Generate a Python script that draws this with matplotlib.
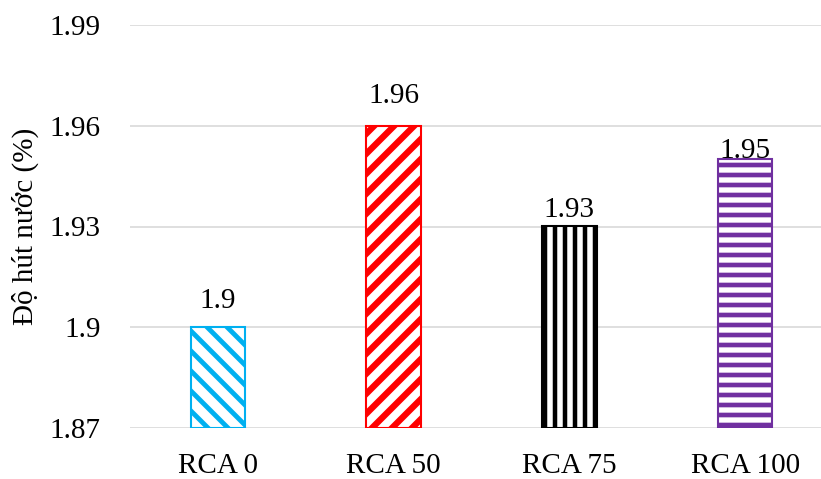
import numpy as np
import matplotlib
matplotlib.use('Agg')
import matplotlib.pyplot as plt
import matplotlib as mpl

# dpi 120 so the hatch cell (1 inch) gives the same stripe spacing as the original
DPI = 120
mpl.rcParams['font.family'] = ['Liberation Serif', 'DejaVu Serif']
mpl.rcParams['font.size'] = 17.5

# data
categories = ['RCA 0', 'RCA 50', 'RCA 75', 'RCA 100']
values = [1.90, 1.96, 1.93, 1.95]
yticks = [1.87, 1.90, 1.93, 1.96, 1.99]

colors = ['#00B0F0', '#FF0000', '#000000', '#7030A0']
hatches = ['\\\\', '//', '||', '--']
hatch_lw = [2.9, 3.8, 2.7, 2.8]
label_pad = [8, 10, 2, -3]

fig = plt.figure(figsize=(821/DPI, 479/DPI), dpi=DPI)
ax = fig.add_axes([130/821, 51/479, 703/821, 403/479])

x = np.arange(len(categories))
for i in range(len(categories)):
    mpl.rcParams['hatch.linewidth'] = hatch_lw[i]
    b = ax.bar(x[i], values[i] - yticks[0], bottom=yticks[0], width=0.31,
               color='white', edgecolor=colors[i], hatch=hatches[i],
               linewidth=1.25, zorder=3)
    for p in b:
        try:
            p.set_hatch_linewidth(hatch_lw[i])
        except AttributeError:
            pass
    ax.annotate('%g' % values[i], (x[i], values[i]), xytext=(0, label_pad[i]),
                textcoords='offset points', ha='center', va='bottom',
                fontsize=17.5, zorder=4)

ax.set_xlim(-0.5, len(categories) - 0.5)
ax.set_ylim(yticks[0], yticks[-1])
ax.set_yticks(yticks)
ax.set_yticklabels(['%g' % t for t in yticks])
ax.set_xticks(x)
ax.set_xticklabels(categories)
ax.tick_params(axis='y', length=0, pad=17.5)
ax.tick_params(axis='x', length=0, pad=15)
ax.grid(True, axis='y', color='#D9D9D9', linewidth=1.0, zorder=0)
for s in ['top', 'right', 'left', 'bottom']:
    ax.spines[s].set_visible(False)
ax.set_ylabel('Độ hút nước (%)', labelpad=6.5)

plt.savefig('out.png', dpi=DPI)
